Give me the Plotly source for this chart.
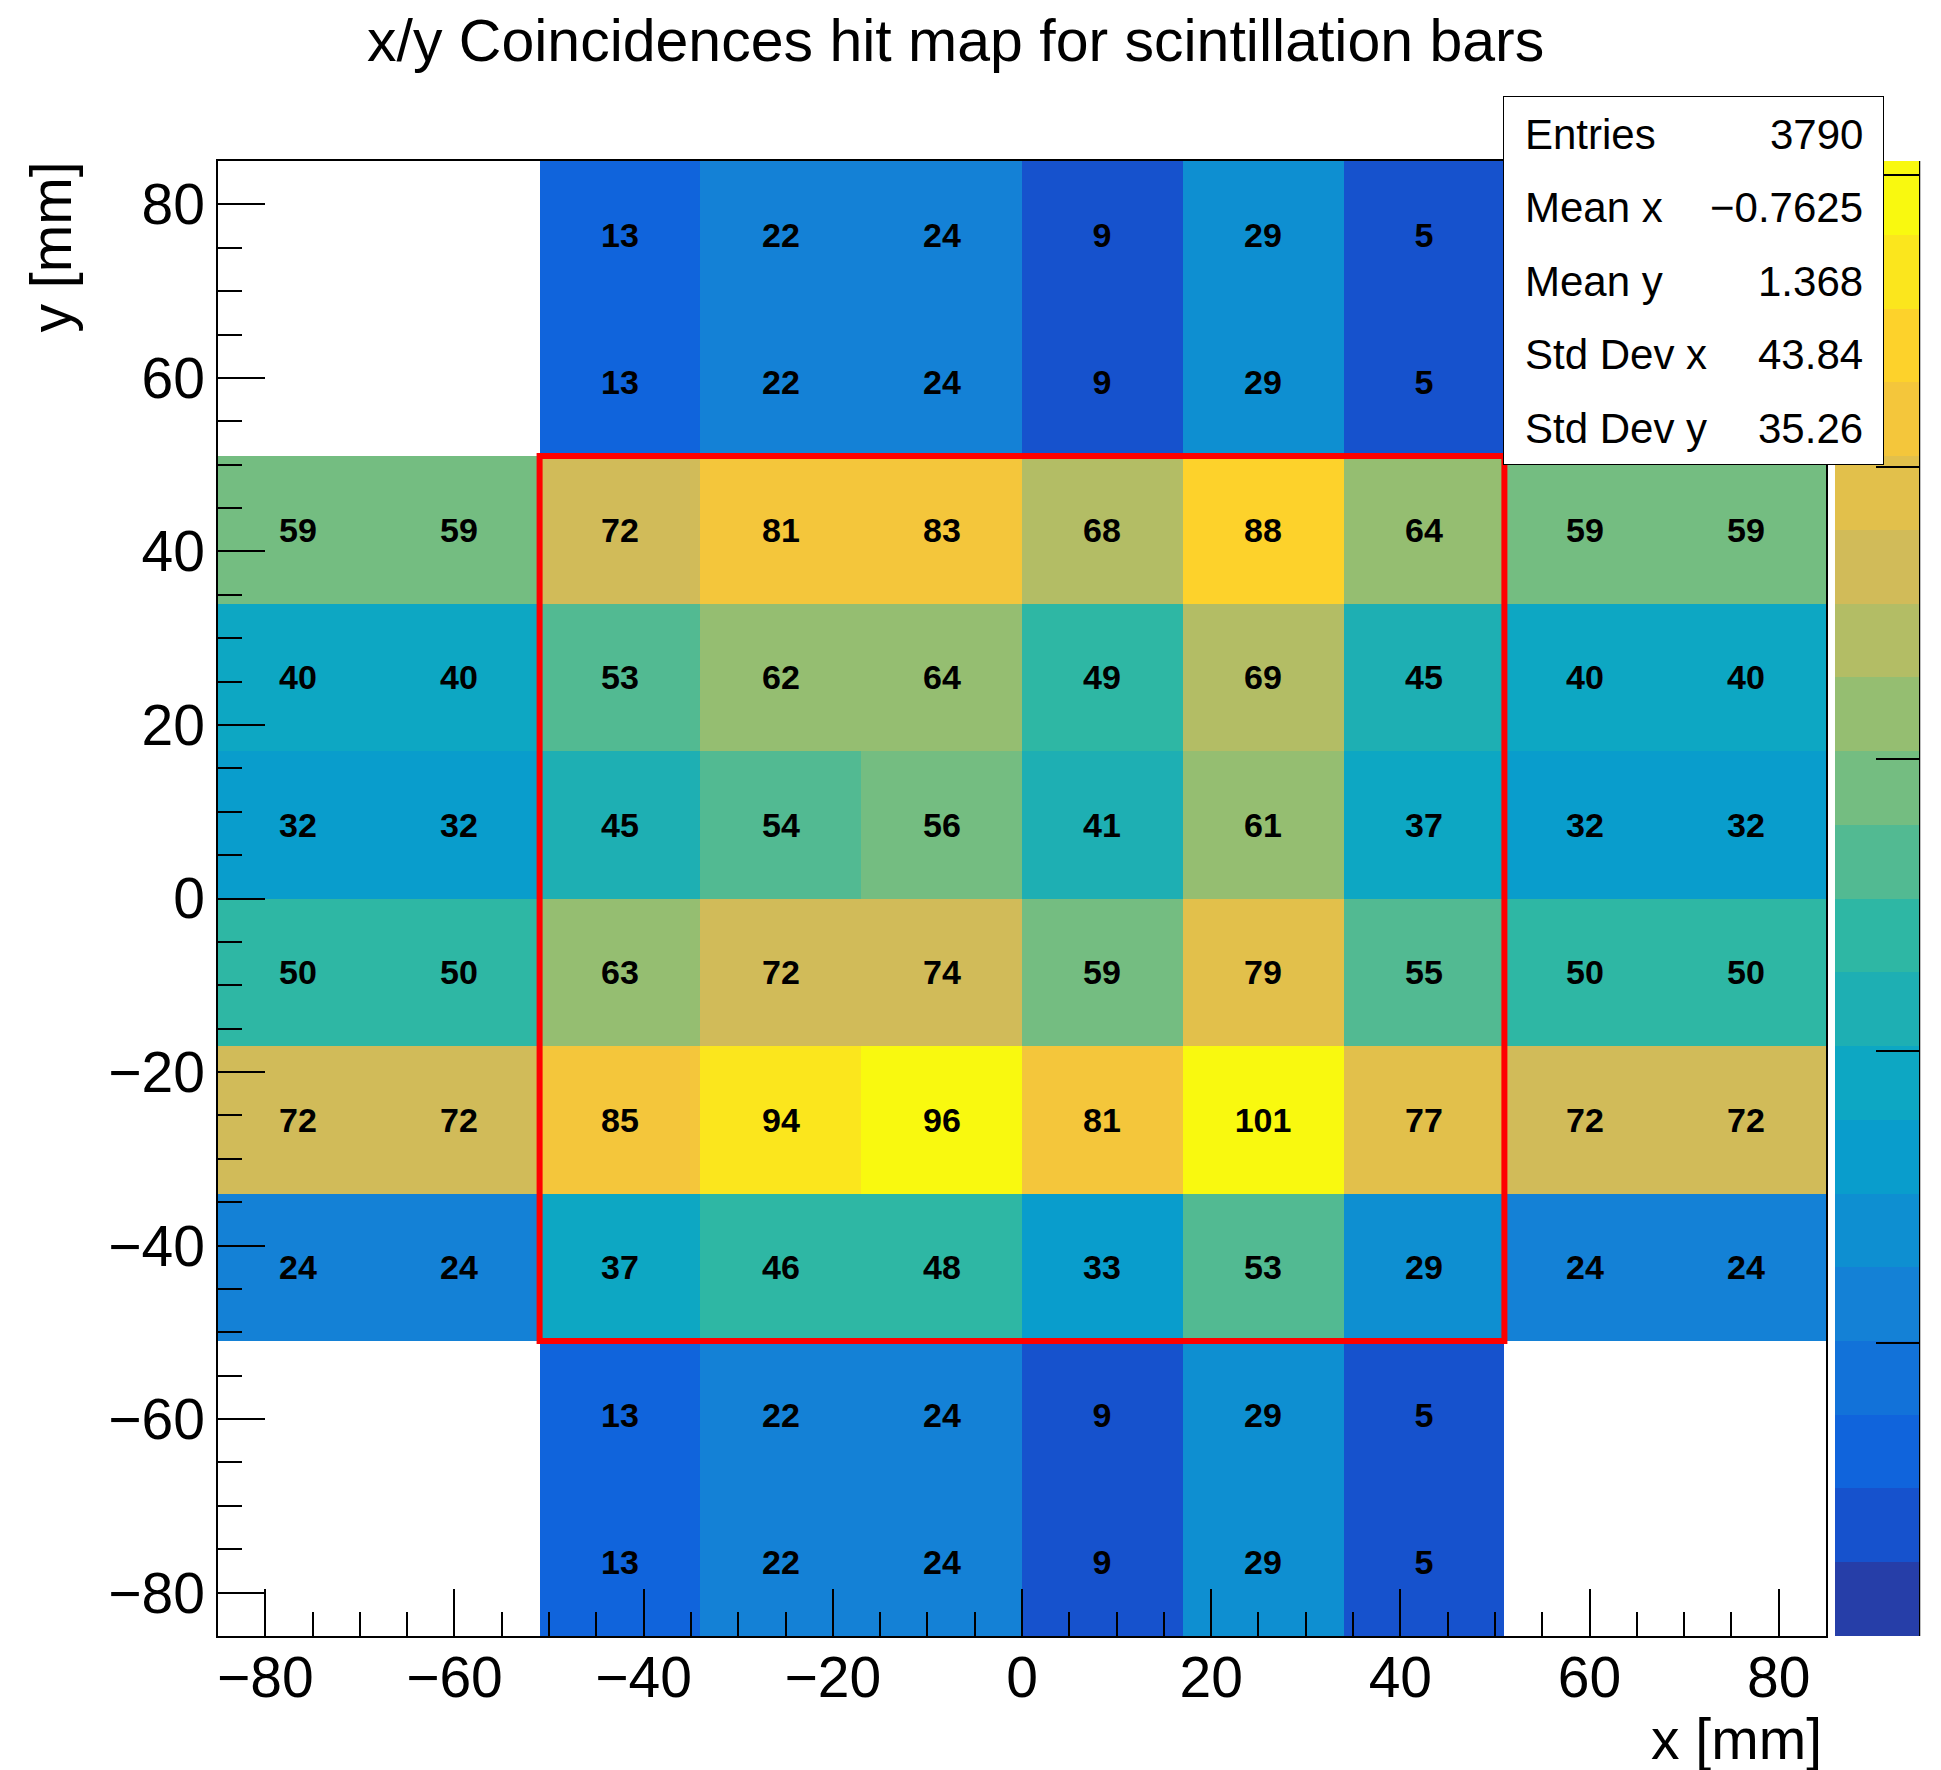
import math
import plotly.graph_objects as go

# ---------------- data ----------------
x_edges = [-85, -68, -51, -34, -17, 0, 17, 34, 51, 68, 85]
y_edges = [-85, -68, -51, -34, -17, 0, 17, 34, 51, 68, 85]

# bin contents, one list per y row (bottom row first), columns left -> right
row_y_m76 = [0, 0, 13, 22, 24, 9, 29, 5, 0, 0]
row_y_m59 = [0, 0, 13, 22, 24, 9, 29, 5, 0, 0]
row_y_m42 = [24, 24, 37, 46, 48, 33, 53, 29, 24, 24]
row_y_m25 = [72, 72, 85, 94, 96, 81, 101, 77, 72, 72]
row_y_m8 = [50, 50, 63, 72, 74, 59, 79, 55, 50, 50]
row_y_p8 = [32, 32, 45, 54, 56, 41, 61, 37, 32, 32]
row_y_p25 = [40, 40, 53, 62, 64, 49, 69, 45, 40, 40]
row_y_p42 = [59, 59, 72, 81, 83, 68, 88, 64, 59, 59]
row_y_p59 = [0, 0, 13, 22, 24, 9, 29, 5, 0, 0]
row_y_p76 = [0, 0, 13, 22, 24, 9, 29, 5, 0, 0]

rows = [row_y_m76, row_y_m59, row_y_m42, row_y_m25, row_y_m8,
        row_y_p8, row_y_p25, row_y_p42, row_y_p59, row_y_p76]

box_x = [-51, 51]
box_y = [-51, 51]

stats_labels = ["Entries", "Mean x", "Mean y", "Std Dev x", "Std Dev y"]
stats_values = ["3790", "\u22120.7625", "1.368", "43.84", "35.26"]

z_max = 101
n_contours = 20
cbar_ticks = [0, 20, 40, 60, 80, 100]

title_text = "x/y Coincidences hit map for scintillation bars"
x_title = "x [mm]"
y_title = "y [mm]"

# ---------------- ROOT kBird palette ----------------
stops = [0.0, 0.125, 0.25, 0.375, 0.5, 0.625, 0.75, 0.875, 1.0]
red = [0.2082, 0.0592, 0.0780, 0.0232, 0.1802, 0.5301, 0.8186, 0.9956, 0.9764]
green = [0.1664, 0.3599, 0.5041, 0.6419, 0.7178, 0.7492, 0.7328, 0.7862, 0.9832]
blue = [0.5293, 0.8684, 0.8385, 0.7914, 0.6425, 0.4662, 0.3499, 0.1968, 0.0539]

NCOL = 255
palette = []
for g in range(1, len(stops)):
    n = int(math.floor(NCOL * stops[g]) - math.floor(NCOL * stops[g - 1]))
    for c in range(n):
        r = red[g - 1] + c * (red[g] - red[g - 1]) / n
        gg = green[g - 1] + c * (green[g] - green[g - 1]) / n
        b = blue[g - 1] + c * (blue[g] - blue[g - 1]) / n
        palette.append("rgb(%d,%d,%d)" % (round(r * 255), round(gg * 255), round(b * 255)))

colorscale = []
for i in range(n_contours):
    idx = min(int((i + 0.99) * NCOL / n_contours), NCOL - 1)
    col = palette[idx]
    colorscale.append([i / n_contours, col])
    colorscale.append([(i + 1) / n_contours, col])

# ROOT level formula: int(0.01 + z*ndiv/zmax) -> shift range by 0.01 band
shift = 0.01 * z_max / n_contours
zmin_eff = -shift
zmax_eff = z_max - shift

z = [[(v if v > 0 else None) for v in r] for r in rows]
txt = [[(str(v) if v > 0 else "") for v in r] for r in rows]

# ---------------- geometry ----------------
# page body has an 8px margin; figure is sized so that it fits the window
OFF = 8
W, H = 1941 - OFF, 1770 - OFF
# plot-area edges in window pixels
L, R, T, B = 218, 1826, 161, 1636
PW, PH = R - L, B - T


def px(xp):
    return (xp - L) / PW


def py(yp):
    return (B - yp) / PH


FONT = "Liberation Sans, Arial, Helvetica, sans-serif"

fig = go.Figure()
fig.add_trace(go.Heatmap(
    x=x_edges, y=y_edges, z=z,
    text=txt, texttemplate="%{text}",
    textfont=dict(family=FONT, size=34, color="black", weight="bold"),
    colorscale=colorscale, zmin=zmin_eff, zmax=zmax_eff,
    hoverinfo="skip",
    colorbar=dict(
        x=px(1835), xanchor="left", xpad=0, ypad=0,
        y=0.5, yanchor="middle", len=1, lenmode="fraction",
        thickness=84, thicknessmode="pixels",
        outlinewidth=0,
        tickmode="array", tickvals=cbar_ticks,
        ticks="inside", ticklen=43, tickwidth=1.5, tickcolor="black",
        showticklabels=False,
    ),
))

# red box
fig.add_shape(type="rect", xref="x", yref="y",
              x0=box_x[0], x1=box_x[1], y0=box_y[0], y1=box_y[1],
              line=dict(color="#ff0000", width=6), layer="above")

# colorbar axis line (right edge)
fig.add_shape(type="line", xref="paper", yref="paper",
              x0=px(1919.5), x1=px(1919.5), y0=0, y1=1,
              line=dict(color="black", width=1.5))

annotations = []
# title
annotations.append(dict(text=title_text, xref="paper", yref="paper",
                        x=px(955), y=py(41), xanchor="center", yanchor="middle",
                        borderpad=0,
                        showarrow=False, font=dict(family=FONT, size=59, color="black")))
# axis titles
annotations.append(dict(text=x_title, xref="paper", yref="paper",
                        x=px(1824), y=py(1739), xanchor="right", yanchor="middle",
                        showarrow=False, font=dict(family=FONT, size=57, color="black")))
annotations.append(dict(text=y_title, xref="paper", yref="paper",
                        x=px(50), y=py(160), xanchor="center", yanchor="top",
                        textangle=-90,
                        showarrow=False, font=dict(family=FONT, size=57, color="black")))
# stats box
annotations.append(dict(text=" ", xref="paper", yref="paper",
                        x=px((1503 + 1884) / 2), y=py((96 + 465) / 2),
                        xanchor="center", yanchor="middle",
                        width=379, height=367, borderpad=0,
                        bgcolor="white", bordercolor="black", borderwidth=1,
                        showarrow=False, font=dict(family=FONT, size=10)))
row_y0, row_dy = 134, 73.5
for k, (lab, val) in enumerate(zip(stats_labels, stats_values)):
    yy = row_y0 + k * row_dy
    annotations.append(dict(text=lab, xref="paper", yref="paper",
                            x=px(1523), y=py(yy), xanchor="left", yanchor="middle",
                            showarrow=False, font=dict(family=FONT, size=42, color="black")))
    annotations.append(dict(text=val, xref="paper", yref="paper",
                            x=px(1865), y=py(yy), xanchor="right", yanchor="middle",
                            showarrow=False, font=dict(family=FONT, size=42, color="black")))

axis_common = dict(
    range=[-85, 85], tickmode="linear", tick0=0, dtick=20,
    ticks="inside", ticklen=47, tickwidth=1.5, tickcolor="black",
    minor=dict(dtick=5, tick0=0, ticks="inside", ticklen=24, tickwidth=1.5, tickcolor="black"),
    showline=True, linecolor="black", linewidth=1.5, mirror=True,
    showgrid=False, zeroline=False,
    tickfont=dict(family=FONT, size=57, color="black"),
)

fig.update_layout(
    width=W, height=H,
    margin=dict(l=L - OFF, r=W - (R - OFF), t=T - OFF, b=H - (B - OFF), autoexpand=False),
    paper_bgcolor="white", plot_bgcolor="white",
    xaxis=dict(**axis_common, ticklabelstandoff=-9),
    yaxis=dict(**axis_common, ticklabelstandoff=0),
    annotations=annotations,
    showlegend=False,
)

fig.write_html("out.html")
